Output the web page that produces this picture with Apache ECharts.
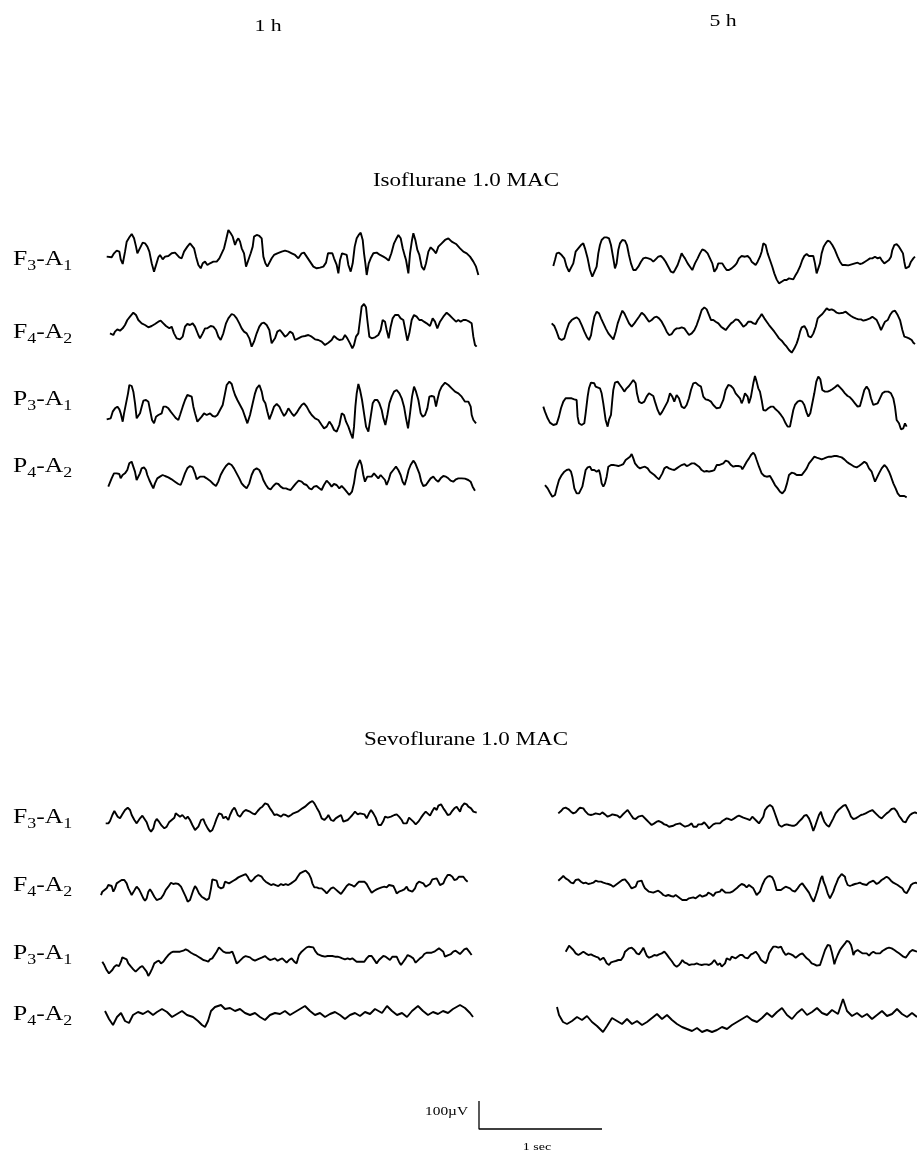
<!DOCTYPE html>
<html><head><meta charset="utf-8">
<script src="https://cdn.jsdelivr.net/npm/echarts@6/dist/echarts.min.js"></script>
<style>html,body{margin:0;padding:0;background:#fff}#c{width:917px;height:1153px}</style>
</head><body><div id="c"></div>
<script>
// Units: time unit = 1/369 s, amplitude unit = 100/84 µV (upward positive)
const timePoints = ['1 h', '5 h'];
const agents = ['Isoflurane 1.0 MAC', 'Sevoflurane 1.0 MAC'];
const channels = ['F3-A1', 'F4-A2', 'P3-A1', 'P4-A2'];
const scaleTime = 369;   // 1 sec
const scaleAmp = 84;     // 100 µV
const scaleLabels = ['100µV', '1 sec'];

const iso1h_F3A1 = [[0,-10],[15,-12],[22,0],[30,8],[38,5],[42,-18],[48,-32],[55,5],[60,35],[68,48],[75,58],[82,45],[88,20],[92,0],[98,-5],[102,20],[108,32],[115,30],[122,20],[128,5],[135,-30],[142,-55],[148,-50],[155,-12],[160,-5],[168,-18],[175,-10],[185,-8],[195,0],[205,2],[210,8],[218,-12],[225,-15],[232,5],[242,20],[250,30],[256,35],[262,15],[268,-10],[275,-35],[282,-45],[288,-30],[295,-25],[302,-35],[310,-30],[320,-25],[330,-25],[338,-15],[345,0],[352,15],[358,40],[365,70],[372,60],[378,50],[385,25],[390,38],[395,45],[400,35],[405,15],[412,0],[418,-40],[425,-20],[432,0],[438,20],[442,50],[450,55],[458,52],[465,45],[470,-10],[476,-30],[482,-40],[488,-35],[495,-15],[502,-5],[512,0],[525,5],[535,8],[545,5],[555,0],[565,-5],[575,-15],[585,0],[592,2],[600,-10],[610,-25],[620,-40],[630,-45],[640,-43],[650,-40],[658,-28],[664,0],[670,5],[677,0],[682,-15],[690,-35],[695,-60],[700,-20],[706,0],[712,2],[720,-5],[725,-35],[732,-55],[738,-30],[744,20],[750,45],[756,55],[762,62],[768,40],[772,0],[776,-30],[780,-65],[786,-30],[792,-15],[800,0],[810,2],[820,-5],[830,-10],[838,-15],[846,-22],[854,0],[862,30],[868,42],[875,55],[882,45],[888,15],[895,-10],[898,-20],[905,-60],[910,0],[916,40],[920,60],[926,40],[932,10],[938,-5],[945,-40],[952,-50],[958,-30],[965,5],[972,18],[980,10],[988,0],[995,20],[1005,30],[1015,40],[1025,45],[1035,35],[1048,28],[1060,15],[1070,5],[1080,0],[1090,-10],[1100,-25],[1108,-40],[1115,-65]];

const iso1h_F4A2 = [[0,-10],[5,-5],[10,-15],[15,-5],[22,2],[30,-2],[38,5],[45,15],[52,30],[60,40],[70,52],[78,45],[85,30],[95,20],[105,15],[115,8],[125,12],[135,18],[145,25],[152,28],[160,20],[168,12],[178,5],[185,10],[192,-10],[200,-25],[210,-28],[218,-20],[225,10],[232,18],[240,15],[248,20],[255,10],[260,12],[265,-15],[270,-25],[278,-10],[285,5],[292,5],[302,12],[310,10],[318,0],[325,-20],[332,-30],[340,-10],[348,20],[355,35],[365,48],[372,45],[380,35],[388,20],[395,5],[402,-5],[410,-10],[418,-25],[425,-50],[432,-35],[440,-10],[448,10],[455,20],[462,22],[470,15],[478,0],[485,-40],[490,-45],[495,-25],[502,-5],[510,0],[518,-10],[525,-20],[532,-15],[540,-5],[548,-10],[555,-30],[565,-25],[575,-20],[585,-18],[595,-15],[605,-20],[615,-28],[625,-30],[635,-35],[645,-45],[655,-38],[665,-30],[672,-18],[680,-25],[688,-30],[698,-28],[705,-15],[712,-25],[720,-40],[727,-55],[732,-45],[738,-20],[745,-10],[750,30],[755,70],[762,78],[768,68],[772,30],[778,-20],[785,-25],[795,-22],[805,-15],[812,0],[818,30],[825,25],[830,0],[836,-25],[842,10],[848,35],[855,45],[865,45],[872,35],[880,30],[886,0],[892,-32],[898,-10],[905,30],[912,45],[920,40],[928,30],[935,30],[942,25],[950,20],[960,12],[968,35],[975,25],[982,5],[990,25],[1000,40],[1010,52],[1018,45],[1028,35],[1038,25],[1045,30],[1052,25],[1060,30],[1068,30],[1078,25],[1085,20],[1090,-20],[1095,-45],[1100,-50]];

const iso1h_P3A1 = [[0,-28],[5,-32],[12,-25],[18,-5],[25,5],[32,10],[38,2],[42,-10],[48,-35],[52,-10],[58,20],[64,50],[68,75],[75,72],[80,55],[85,20],[90,-25],[95,-30],[100,-10],[105,10],[110,28],[118,30],[125,25],[130,0],[136,-30],[142,-40],[148,-20],[155,-15],[160,-20],[165,-10],[170,10],[178,10],[185,5],[192,-5],[200,-15],[208,-25],[215,-30],[220,-15],[228,10],[235,30],[242,45],[248,50],[255,40],[260,10],[265,-10],[272,-35],[278,-35],[285,-20],[292,-10],[300,-15],[310,-10],[318,-18],[325,-20],[332,-15],[340,0],[348,15],[355,50],[360,75],[368,85],[375,78],[380,60],[385,45],[392,30],[400,15],[408,0],[415,-20],[422,-40],[430,-15],[438,20],[445,50],[450,65],[458,75],[465,55],[470,30],[476,20],[482,-5],[488,-28],[495,-10],[502,10],[510,18],[518,10],[525,-5],[532,-18],[538,-10],[545,5],[550,10],[555,-10],[562,-18],[570,-8],[578,5],[585,15],[592,20],[600,10],[608,-5],[615,-15],[625,-25],[635,-30],[645,-45],[652,-55],[660,-50],[668,-35],[675,-45],[682,-60],[690,-65],[698,-45],[705,-10],[712,-15],[718,-35],[725,-50],[732,-70],[738,-85],[742,-50],[746,10],[750,50],[755,78],[760,60],[766,30],[772,-10],[778,-50],[785,-65],[792,-20],[798,20],[804,30],[812,30],[818,20],[825,0],[830,-25],[836,-45],[842,-15],[848,20],[855,40],[862,55],[870,60],[878,50],[885,35],[892,10],[898,-25],[904,-55],[910,-10],[916,40],[922,70],[928,55],[935,30],[942,-10],[948,-20],[955,-15],[962,5],[968,40],[975,42],[982,40],[988,10],[992,30],[998,55],[1005,70],[1015,82],[1025,75],[1035,65],[1045,55],[1055,50],[1065,40],[1075,25],[1085,25],[1092,10],[1095,-15],[1100,-30],[1108,-40]];

const iso1h_P4A2 = [[0,-20],[5,-15],[10,5],[17,20],[25,20],[33,18],[37,5],[43,15],[50,20],[57,30],[63,50],[70,55],[75,50],[80,25],[85,0],[91,-5],[95,20],[100,35],[107,38],[113,30],[117,15],[123,0],[130,-15],[135,-25],[140,-10],[147,5],[155,10],[163,15],[170,12],[180,8],[190,2],[200,-5],[210,-12],[217,-15],[223,0],[230,20],[237,35],[245,42],[253,38],[260,20],[265,2],[270,-2],[275,10],[280,15],[287,10],[295,5],[305,-2],[315,-12],[323,-18],[330,-5],[337,15],[345,30],[353,42],[361,50],[370,45],[377,35],[385,20],[393,5],[400,-10],[407,-18],[415,-25],[423,-10],[430,15],[437,30],[445,35],[453,30],[460,15],[465,0],[473,-15],[480,-25],[487,-28],[495,-18],[503,-10],[510,-12],[517,-20],[525,-25],[533,-25],[540,-28],[547,-30],[555,-20],[563,-10],[571,-2],[580,-5],[587,-12],[595,-15],[603,-25],[610,-28],[617,-20],[625,-18],[633,-25],[640,-30],[647,-15],[655,-2],[663,-10],[670,-20],[677,-12],[685,-15],[693,-25],[700,-18],[707,-25],[715,-35],[723,-45],[727,-50],[731,-35],[737,-10],[743,30],[750,50],[755,60],[760,45],[765,15],[770,-5],[777,10],[783,15],[790,10],[797,20],[803,15],[810,5],[817,15],[823,20],[830,0],[835,-15],[841,0],[847,20],[855,30],[863,40],[870,30],[877,15],[883,-5],[889,-15],[895,5],[901,30],[907,45],[915,58],[921,50],[927,35],[933,20],[939,-5],[945,-18],[953,-15],[960,-5],[967,5],[975,10],[983,0],[990,-5],[997,5],[1005,12],[1013,10],[1020,5],[1027,-2],[1035,-5],[1043,2],[1050,5],[1060,5],[1070,4],[1080,0],[1087,-5],[1093,-20],[1100,-32]];

const iso5h_F3A1 = [[0,-28],[5,-10],[10,10],[17,12],[25,5],[33,-5],[40,-30],[47,-45],[53,-50],[60,-20],[67,15],[75,25],[83,35],[90,40],[95,25],[103,-5],[110,-40],[117,-60],[123,-62],[130,-30],[135,10],[140,35],[145,50],[153,58],[160,58],[167,55],[173,35],[180,-5],[185,-35],[190,-20],[195,20],[200,40],[207,50],[215,48],[221,35],[227,5],[233,-20],[240,-40],[247,-40],[255,-30],[263,-15],[270,-5],[277,-3],[285,-5],[293,-8],[300,-15],[307,-8],[315,0],[323,2],[330,-5],[337,-15],[345,-30],[353,-45],[360,-48],[365,-40],[373,-25],[380,-5],[385,10],[390,2],[395,-5],[403,-20],[410,-30],[417,-40],[425,-20],[433,-5],[440,10],[447,22],[455,18],[463,10],[470,-5],[477,-20],[483,-45],[490,-35],[495,-20],[500,-18],[507,-20],[513,-30],[520,-40],[527,-40],[535,-35],[543,-28],[550,-20],[557,-5],[565,2],[575,0],[583,2],[590,-5],[595,-15],[600,-20],[607,-25],[613,-15],[620,0],[625,15],[630,40],[637,35],[643,10],[650,-10],[657,-30],[663,-50],[670,-68],[677,-80],[685,-75],[693,-70],[700,-70],[707,-65],[713,-60],[720,-68],[727,-55],[733,-45],[740,-30],[747,-10],[753,2],[760,8],[767,2],[773,0],[780,2],[785,-20],[790,-50],[795,-55],[800,-20],[805,10],[811,30],[817,40],[823,48],[830,45],[837,35],[845,20],[853,0],[860,-15],[867,-25],[875,-25],[885,-26],[895,-23],[905,-20],[913,-18],[920,-22],[927,-20],[935,-15],[943,-10],[950,-5],[957,-5],[965,0],[973,-5],[980,-2],[985,-10],[993,-20],[1000,-15],[1007,-10],[1013,0],[1017,20],[1023,35],[1030,38],[1037,30],[1043,20],[1049,10],[1053,-15],[1057,-35],[1063,-40],[1067,-30],[1073,-15],[1080,-5],[1085,0]];

const iso5h_F4A2 = [[0,10],[8,2],[15,-15],[22,-35],[30,-40],[38,-35],[45,-10],[52,10],[60,20],[68,25],[75,28],[82,22],[90,5],[98,-15],[105,-30],[112,-40],[118,-25],[122,0],[128,30],[135,45],[142,40],[148,25],[155,10],[162,-5],[170,-20],[178,-30],[185,-38],[192,-15],[198,10],[205,30],[212,48],[218,40],[225,25],[232,10],[240,0],[248,10],[255,20],[262,30],[270,42],[278,35],[285,25],[292,15],[300,20],[308,28],[315,30],[322,25],[330,15],[338,0],[345,-15],[352,-25],[360,-22],[368,-10],[375,-5],[382,-5],[390,-2],[398,-5],[405,-15],[412,-25],[420,-20],[428,-10],[435,5],[442,25],[450,50],[458,58],[465,52],[472,35],[478,20],[485,20],[492,15],[500,10],[508,0],[515,-5],[522,-10],[530,0],[538,10],[545,15],[552,22],[560,20],[568,10],[575,0],[582,5],[590,15],[598,15],[605,10],[612,8],[618,20],[625,30],[630,38],[638,25],[645,15],[652,5],[660,-5],[668,-15],[675,-25],[682,-35],[690,-42],[698,-52],[705,-60],[712,-70],[720,-78],[728,-65],[735,-50],[740,-35],[745,-15],[750,-2],[758,2],[765,-10],[770,-28],[778,-32],[785,-20],[792,0],[798,25],[805,32],[812,38],[818,35],[825,55],[832,50],[840,52],[848,48],[855,42],[862,40],[868,38],[875,42],[882,45],[890,38],[898,32],[905,28],[912,25],[920,22],[928,22],[935,18],[942,20],[948,18],[955,25],[962,30],[968,35],[975,20],[982,5],[988,-10],[995,5],[1000,15],[1008,20],[1015,35],[1022,45],[1030,48],[1038,35],[1045,20],[1052,-10],[1058,-30],[1065,-32],[1072,-35],[1080,-40],[1085,-48],[1090,-52]];

const iso5h_P3A1 = [[0,-10],[5,-25],[13,-45],[20,-58],[30,-65],[40,-62],[47,-40],[53,-15],[60,5],[67,15],[75,15],[85,15],[93,12],[100,10],[103,-40],[107,-60],[115,-65],[123,-60],[127,-30],[133,20],[137,45],[143,62],[147,65],[153,60],[157,50],[163,52],[170,45],[175,30],[180,0],[187,-50],[193,-70],[197,-50],[203,-35],[207,10],[210,40],[215,62],[223,65],[230,55],[237,45],[243,35],[250,45],[257,52],[263,60],[270,70],[277,60],[281,30],[287,5],[295,0],[303,5],[310,20],[317,30],[323,32],[330,22],[335,5],[343,-20],[350,-35],[357,-25],[365,-10],[373,5],[380,30],[387,20],[393,5],[400,25],[407,15],[415,-10],[423,-15],[430,-5],[437,15],[443,40],[450,60],[457,62],[465,55],[473,50],[480,20],[487,12],[495,10],[503,5],[510,-5],[520,-15],[530,-13],[540,10],[547,40],[555,55],[563,52],[570,45],[577,30],[583,35],[590,15],[595,0],[600,12],[605,30],[613,20],[617,0],[623,20],[630,60],[635,82],[640,65],[645,45],[650,35],[655,10],[660,-20],[667,-22],[675,-15],[683,-10],[690,-10],[697,-18],[705,-25],[713,-35],[720,-45],[727,-60],[733,-70],[740,-70],[745,-45],[750,-20],[755,-5],[763,5],[770,8],[777,5],[783,-5],[790,-28],[795,-40],[801,-30],[807,0],[813,30],[819,65],[825,80],[831,72],[837,40],[845,35],[853,35],[860,38],[867,42],[875,48],[883,55],[890,48],[897,40],[905,30],[913,22],[920,18],[927,10],[935,0],[943,-10],[950,-8],[955,10],[963,40],[970,50],[977,40],[983,15],[990,-5],[995,-10],[1003,0],[1010,15],[1017,30],[1025,35],[1035,35],[1043,30],[1050,15],[1055,-10],[1060,-50],[1067,-60],[1073,-78],[1080,-75],[1085,-60],[1090,-70]];

const iso5h_P4A2 = [[0,-25],[8,-35],[15,-48],[22,-60],[30,-55],[35,-35],[42,-10],[50,5],[58,15],[65,20],[72,22],[78,15],[82,0],[88,-35],[95,-50],[102,-50],[108,-45],[112,-30],[118,0],[122,20],[128,28],[135,30],[140,20],[148,20],[155,15],[162,20],[166,5],[170,-20],[175,-30],[180,-20],[185,0],[190,30],[198,35],[205,35],[212,34],[220,32],[228,35],[235,38],[242,50],[248,55],[255,60],[260,68],[265,55],[270,40],[278,30],[285,25],[292,28],[300,30],[308,25],[315,15],[320,10],[328,5],[335,-2],[342,-8],[348,-5],[352,10],[358,25],[365,30],[372,25],[380,22],[388,20],[395,25],[402,30],[410,35],[418,38],[425,32],[432,35],[440,40],[448,40],[455,35],[462,30],[470,20],[478,15],[485,17],[492,15],[500,17],[508,20],[515,35],[522,35],[528,30],[535,40],[542,48],[550,45],[558,35],[565,30],[572,32],[580,32],[588,30],[592,22],[598,32],[605,45],[612,55],[618,65],[625,72],[630,65],[635,50],[642,30],[650,10],[658,2],[665,0],[675,2],[682,-10],[690,-25],[698,-35],[705,-45],[712,-50],[720,-40],[726,-20],[732,5],[740,12],[748,10],[755,5],[762,5],[770,5],[778,15],[785,25],[792,40],[800,50],[808,60],[815,57],[822,55],[830,52],[838,55],[845,58],[852,60],[860,60],[868,62],[875,62],[882,60],[890,58],[898,52],[905,45],[912,40],[920,35],[928,30],[935,28],[942,32],[950,38],[958,45],[965,40],[972,25],[980,15],[985,0],[990,-15],[995,-10],[1002,10],[1010,25],[1018,35],[1025,28],[1032,15],[1038,0],[1045,-20],[1052,-35],[1058,-50],[1065,-58],[1070,-55],[1078,-58],[1085,-62]];

const sevo1h_F3A1 = [[0,-25],[8,-25],[13,-18],[20,0],[26,12],[30,10],[36,-5],[43,-10],[50,2],[58,15],[66,22],[73,15],[78,0],[86,-15],[93,-25],[98,-20],[103,-10],[110,-2],[116,-5],[123,-22],[130,-42],[136,-50],[143,-40],[148,-20],[153,-12],[160,-20],[168,-32],[176,-40],[183,-35],[190,-22],[198,-15],[206,-8],[210,5],[216,0],[223,-5],[230,0],[236,-5],[240,-12],[246,-5],[253,-15],[260,-30],[268,-45],[273,-48],[278,-35],[286,-15],[293,-12],[298,-25],[306,-40],[313,-50],[320,-45],[326,-30],[333,-10],[340,5],[348,2],[353,-10],[360,-5],[368,-15],[373,0],[380,15],[386,22],[390,15],[396,0],[403,-5],[408,0],[413,10],[420,15],[426,20],[433,10],[440,5],[448,2],[456,12],[463,20],[470,25],[478,35],[486,32],[493,20],[500,10],[506,0],[513,2],[518,5],[526,-5],[533,2],[540,0],[548,-5],[556,0],[563,5],[568,0],[576,10],[583,15],[590,20],[598,25],[606,32],[613,38],[620,42],[626,35],[633,22],[640,10],[648,-10],[656,-15],[663,-8],[668,0],[676,-15],[683,-18],[690,-10],[698,-5],[706,0],[713,-20],[718,-25],[726,-15],[733,-8],[740,0],[748,10],[756,2],[763,5],[768,10],[776,2],[783,-10],[790,5],[796,15],[803,5],[810,-8],[818,-30],[826,-30],[833,-18],[838,-5],[846,-8],[856,-5],[866,0],[873,2],[880,-5],[888,-15],[893,-25],[898,-20],[903,-25],[910,-8],[916,-10],[923,-20],[930,-28],[938,-20],[946,-8],[953,2],[960,10],[966,5],[973,-2],[980,12],[986,22],[993,15],[998,28],[1006,32],[1013,20],[1020,10],[1026,0],[1033,2],[1038,10],[1046,20],[1053,25],[1058,20],[1063,10],[1068,25],[1076,35],[1083,32],[1088,25],[1096,20],[1103,10],[1113,7]];

const sevo1h_F4A2 = [[0,-25],[4,-15],[10,-20],[17,-5],[22,5],[27,10],[32,2],[37,-15],[42,-5],[47,10],[54,15],[62,20],[70,20],[77,10],[82,-5],[87,-15],[92,-25],[97,-20],[102,-8],[107,0],[114,-8],[120,-20],[127,-35],[132,-42],[137,-35],[142,-15],[147,-8],[152,-15],[160,-30],[167,-40],[172,-40],[180,-35],[187,-25],[194,-10],[202,0],[210,12],[217,8],[224,10],[232,8],[240,0],[247,-15],[254,-30],[260,-45],[267,-40],[272,-25],[277,-10],[282,2],[287,-5],[294,-20],[302,-30],[310,-35],[317,-40],[324,-35],[330,-5],[334,22],[340,25],[347,18],[352,0],[360,-5],[367,-2],[372,15],[377,20],[384,10],[390,12],[397,18],[404,22],[412,28],[420,32],[427,35],[434,38],[440,30],[444,22],[450,15],[457,22],[464,30],[472,35],[477,38],[482,30],[487,22],[494,15],[502,10],[510,5],[517,8],[524,5],[532,2],[540,8],[547,5],[554,8],[562,5],[570,10],[577,15],[584,20],[590,30],[597,40],[607,45],[614,48],[620,45],[624,38],[630,25],[634,10],[640,-2],[647,-2],[654,-5],[662,-5],[670,-12],[677,-20],[682,-15],[690,-5],[697,-2],[704,-8],[712,-15],[720,-22],[724,-25],[730,-8],[737,2],[744,8],[752,5],[760,0],[767,8],[774,15],[782,15],[790,15],[797,8],[804,-5],[812,-18],[820,-12],[827,-8],[834,-5],[842,-2],[850,0],[857,-2],[864,5],[870,8],[877,2],[882,-8],[887,-20],[894,-15],[902,-12],[910,-8],[917,0],[922,-10],[927,-15],[934,-15],[942,-5],[947,8],[954,15],[960,15],[967,10],[974,0],[980,-5],[987,8],[994,22],[1000,28],[1007,25],[1012,15],[1017,5],[1022,0],[1027,10],[1032,22],[1040,35],[1047,35],[1054,30],[1060,20],[1067,22],[1074,30],[1080,35],[1087,30],[1094,20],[1100,15]];

const sevo1h_P3A1 = [[0,-15],[6,-25],[13,-40],[20,-50],[26,-52],[30,-40],[36,-30],[43,-25],[50,-28],[56,-15],[60,-2],[66,0],[73,-8],[78,-20],[86,-30],[93,-38],[100,-45],[106,-42],[113,-32],[120,-28],[126,-32],[133,-45],[138,-58],[143,-50],[150,-35],[156,-20],[163,-15],[170,-12],[176,-20],[183,-15],[190,-5],[198,5],[206,12],[213,15],[223,15],[233,15],[243,18],[250,22],[258,18],[266,12],[273,8],[280,5],[288,0],[296,-5],[303,-10],[310,-12],[318,-15],[323,-8],[330,-5],[336,0],[343,15],[350,28],[356,22],[363,15],[370,12],[376,10],[383,12],[390,15],[396,0],[403,-20],[410,-15],[416,-10],[423,-2],[430,2],[436,5],[443,-2],[450,-8],[458,-12],[466,-8],[473,-5],[480,-2],[488,2],[496,-5],[503,-10],[510,-8],[518,-5],[526,-12],[533,-8],[540,-5],[546,-10],[553,-18],[560,-10],[568,-5],[576,-15],[583,-20],[590,5],[598,15],[606,22],[613,28],[620,30],[626,32],[633,28],[640,15],[646,8],[653,5],[660,2],[668,0],[676,2],[683,2],[690,2],[698,0],[706,0],[713,-2],[720,-5],[728,-8],[736,-5],[743,-8],[750,-5],[756,0],[763,-15],[770,-15],[778,-15],[786,-15],[793,-5],[800,2],[808,2],[813,-5],[818,-10],[823,-20],[830,-10],[836,-5],[843,2],[850,0],[856,-5],[863,-10],[870,0],[876,5],[883,0],[890,-15],[896,-25],[903,-15],[910,-5],[916,5],[920,8],[926,0],[933,-5],[940,-18],[946,-12],[953,-5],[960,0],[966,8],[973,12],[980,12],[988,12],[996,15],[1003,20],[1010,25],[1016,22],[1023,15],[1028,0],[1033,-5],[1038,5],[1046,8],[1053,15],[1060,18],[1066,12],[1073,8],[1078,12],[1086,22],[1093,25],[1098,20],[1103,12],[1108,5]];

const sevo1h_P4A2 = [[0,18],[12,-6],[24,-24],[36,0],[48,12],[60,-12],[72,-18],[84,6],[99,15],[114,9],[129,18],[144,6],[156,15],[171,24],[186,15],[201,0],[216,9],[231,18],[246,6],[264,0],[279,-12],[291,-24],[300,-30],[309,-12],[318,18],[330,30],[348,36],[360,24],[375,27],[390,18],[405,24],[420,12],[435,6],[450,12],[465,0],[480,-9],[495,6],[510,12],[525,9],[540,18],[555,6],[570,15],[585,24],[600,33],[615,18],[630,6],[645,12],[660,0],[675,9],[690,15],[705,6],[720,-6],[735,6],[750,12],[765,3],[780,15],[795,9],[810,24],[831,12],[846,33],[861,18],[876,6],[891,12],[906,0],[921,18],[939,33],[954,18],[969,6],[984,15],[999,9],[1014,18],[1029,12],[1044,24],[1065,36],[1080,27],[1095,12],[1104,0]];

const sevo5h_F3A1 = [[0,10],[8,17],[15,25],[22,27],[30,23],[38,15],[45,10],[52,13],[58,20],[65,27],[70,30],[75,25],[82,15],[90,7],[98,5],[105,7],[112,10],[118,5],[125,7],[132,13],[140,7],[148,0],[155,3],[162,7],[170,5],[178,3],[185,-3],[192,5],[200,13],[208,20],[212,15],[218,5],[225,-5],[232,-7],[240,0],[245,5],[252,3],[258,-3],[265,-10],[272,-17],[280,-25],[288,-20],[295,-15],[302,-13],[310,-17],[318,-23],[325,-25],[332,-30],[338,-25],[345,-27],[352,-23],[358,-25],[365,-20],[372,-25],[380,-30],[385,-35],[390,-27],[395,-33],[400,-20],[405,-30],[410,-35],[415,-30],[420,-23],[425,-27],[430,-23],[438,-17],[445,-25],[452,-35],[458,-30],[465,-23],[472,-20],[478,-25],[485,-20],[492,-13],[498,-7],[505,-5],[512,-7],[520,-10],[528,-5],[535,0],[542,3],[548,5],[555,-3],[560,0],[568,-7],[575,-10],[582,0],[588,-3],[595,-13],[602,-20],[608,-20],[615,0],[620,20],[628,30],[635,35],[642,30],[648,15],[655,-5],[662,-25],[670,-30],[678,-25],[685,-23],[692,-25],[700,-27],[708,-27],[715,-23],[722,-15],[730,-7],[738,3],[745,5],[752,-5],[758,-20],[765,-43],[770,-30],[775,-15],[782,5],[788,15],[792,0],[798,-15],[805,-25],[812,-30],[818,-25],[825,-5],[832,10],[840,20],[848,27],[855,33],[862,35],[868,30],[872,15],[878,0],[885,-7],[892,-5],[900,0],[908,5],[915,7],[922,10],[928,15],[935,17],[942,20],[948,15],[955,7],[962,0],[970,-5],[978,3],[985,10],[992,15],[1000,23],[1008,25],[1015,17],[1022,3],[1028,-5],[1035,-15],[1042,-17],[1048,-5],[1055,5],[1062,10],[1070,13],[1076,10]];

const sevo5h_F4A2 = [[0,13],[8,20],[15,27],[22,20],[30,15],[38,7],[45,5],[52,15],[60,17],[68,10],[75,5],[82,7],[90,3],[98,5],[105,7],[112,13],[120,10],[128,10],[135,7],[142,5],[150,3],[158,0],[165,-5],[172,0],[178,5],[185,10],[192,15],[200,17],[205,13],[210,5],[215,-3],[220,-10],[225,-13],[232,-5],[238,10],[242,15],[250,13],[255,0],[260,-10],[265,-15],[272,-20],[278,-17],[285,-23],[292,-20],[300,-17],[308,-23],[315,-30],[322,-33],[330,-30],[338,-33],[345,-35],[352,-30],[358,-35],[365,-40],[372,-45],[378,-47],[385,-45],[392,-40],[398,-43],[405,-37],[412,-40],[418,-35],[425,-30],[432,-35],[438,-40],[445,-30],[450,-23],[458,-27],[465,-33],[472,-23],[478,-25],[485,-20],[490,-13],[495,-17],[502,-23],[508,-20],[515,-23],[522,-20],[528,-17],[535,-10],[542,-3],[550,3],[558,0],[565,-7],[572,0],[578,-5],[585,-10],[590,-15],[595,-30],[600,-35],[605,-20],[612,0],[620,17],[628,25],[635,27],[642,23],[648,10],[655,-15],[660,-20],[668,-15],[675,-10],[682,-5],[688,-3],[695,-10],[702,-17],[710,-20],[718,-10],[725,0],[732,5],[738,0],[745,-13],[752,-23],[760,-40],[766,-50],[772,-33],[778,-15],[782,0],[788,20],[792,27],[796,10],[802,-5],[808,-25],[815,-40],[820,-35],[825,-20],[830,-5],[835,7],[840,20],[845,25],[850,33],[855,35],[860,25],[862,15],[868,0],[875,-3],[882,0],[890,3],[898,5],[905,7],[912,3],[918,5],[925,0],[932,7],[938,10],[945,13],[950,7],[955,3],[962,7],[970,15],[978,20],[985,25],[992,20],[998,13],[1005,7],[1010,5],[1018,0],[1025,-5],[1032,-10],[1038,-20],[1045,-25],[1052,-13],[1058,0],[1065,5],[1072,7],[1076,5]];

const sevo5h_P3A1 = [[0,10],[6,20],[10,28],[16,25],[23,15],[30,5],[38,0],[46,5],[53,10],[60,5],[68,0],[76,2],[83,-2],[90,-5],[98,-8],[103,-15],[108,-20],[113,-8],[118,-15],[123,-25],[130,-30],[136,-22],[143,-20],[150,-18],[158,-15],[166,-15],[173,-5],[178,10],[183,15],[190,20],[198,22],[206,15],[213,5],[220,2],[226,10],[233,22],[238,10],[243,-2],[250,-8],[258,-5],[266,0],[273,-2],[280,2],[288,5],[296,10],[303,2],[310,-8],[318,-18],[326,-30],[333,-35],[340,-30],[346,-22],[350,-15],[356,-22],[363,-25],[370,-30],[378,-28],[386,-28],[393,-25],[400,-28],[408,-30],[416,-28],[423,-28],[430,-30],[438,-25],[446,-15],[450,-18],[456,-30],[463,-25],[468,-35],[473,-40],[478,-25],[483,-10],[488,-12],[493,-15],[498,-5],[503,-2],[510,-10],[516,-5],[523,0],[530,0],[538,-8],[546,-10],[550,-5],[556,2],[563,5],[570,10],[578,0],[586,-15],[593,-20],[600,-25],[606,-12],[610,5],[616,15],[623,25],[630,25],[638,22],[646,25],[653,10],[660,0],[668,5],[676,2],[683,-2],[690,-8],[696,-5],[703,2],[710,5],[716,-2],[723,-10],[730,-15],[738,-25],[746,-28],[753,-32],[758,-38],[763,-30],[768,-15],[773,0],[778,15],[786,30],[793,28],[798,10],[803,-12],[806,-28],[810,-15],[816,0],[823,15],[828,22],[833,28],[838,35],[843,42],[848,48],[850,40],[856,30],[860,15],[863,0],[868,10],[876,15],[883,10],[890,5],[896,2],[903,5],[910,-2],[916,5],[923,10],[930,5],[936,0],[943,5],[950,12],[956,15],[963,20],[970,22],[978,20],[986,15],[993,10],[1000,5],[1006,2],[1013,-5],[1020,-8],[1026,0],[1033,10],[1040,15],[1046,12],[1054,10]];

const sevo5h_P4A2 = [[0,33],[6,9],[18,-12],[30,-18],[45,-9],[60,3],[75,-6],[90,6],[105,-12],[120,-24],[138,-42],[150,-24],[165,0],[180,-9],[195,-18],[210,-3],[225,-18],[240,-9],[255,-21],[270,-12],[285,0],[300,12],[315,-3],[330,9],[345,-6],[360,-18],[375,-27],[390,-33],[405,-39],[420,-30],[435,-42],[450,-36],[465,-42],[480,-36],[495,-27],[510,-33],[525,-21],[540,-12],[555,-3],[570,6],[585,-6],[600,-12],[615,0],[630,15],[645,3],[660,18],[675,30],[690,9],[705,-3],[720,15],[735,27],[750,9],[765,18],[780,30],[795,15],[810,9],[825,24],[843,12],[858,57],[870,21],[885,6],[900,15],[915,3],[930,12],[945,-3],[960,9],[975,21],[990,6],[1005,12],[1020,27],[1035,12],[1050,3],[1065,15],[1080,3]];

// trace order: [agent][time][channel]
const traces = [
  [[iso1h_F3A1, iso1h_F4A2, iso1h_P3A1, iso1h_P4A2], [iso5h_F3A1, iso5h_F4A2, iso5h_P3A1, iso5h_P4A2]],
  [[sevo1h_F3A1, sevo1h_F4A2, sevo1h_P3A1, sevo1h_P4A2], [sevo5h_F3A1, sevo5h_F4A2, sevo5h_P3A1, sevo5h_P4A2]]
];

// ---- layout (positions only) ----
const traceLeft = [
  [[106.7, 110, 106.7, 108.3], [553.3, 551.7, 543.3, 545]],
  [[105.7, 101, 102.3, 105], [558.3, 558.3, 565.7, 557]]
];
const traceBase = [
  [[253.3, 330, 410, 480], [256.7, 326.7, 403.3, 476.7]],
  [[815, 886.7, 956.7, 1017], [816.7, 885, 955, 1018]]
];
const labelY = [[260, 333, 400, 467], [818, 886, 954, 1015]];
const titleY = [181, 740];
const timeX = [268, 723], timeY = [27, 22];
const FONT = "'Liberation Serif','Times New Roman',serif";
const SX = 1.28;
const PX = 3; // axis units per pixel (both axes)

const grids = [], xAxes = [], yAxes = [], series = [], graphics = [];
function addGrid(left, zeroY, hUp, hDown) {
  const i = grids.length;
  const w = Math.min(400, 916 - left);
  grids.push({left: left, top: zeroY - hUp, width: w, height: hUp + hDown, outerBoundsMode: 'none', containLabel: false});
  xAxes.push({type: 'value', gridIndex: i, min: 0, max: w * PX, show: false});
  yAxes.push({type: 'value', gridIndex: i, min: -hDown * PX, max: hUp * PX, show: false});
  return i;
}
for (let a = 0; a < 2; a++) for (let t = 0; t < 2; t++) for (let c = 0; c < 4; c++) {
  const i = addGrid(traceLeft[a][t][c], traceBase[a][t][c], 60, 60);
  series.push({type: 'line', xAxisIndex: i, yAxisIndex: i, data: traces[a][t][c],
    showSymbol: false, symbol: 'none', silent: true, clip: false,
    lineStyle: {color: '#000', width: 1.9}});
}
// scale bar
const sb = addGrid(479, 1129, 40, 20);
series.push({type: 'line', xAxisIndex: sb, yAxisIndex: sb, data: [[0, scaleAmp], [0, 0], [scaleTime, 0]],
  showSymbol: false, symbol: 'none', silent: true, clip: false, lineStyle: {color: '#000', width: 1.3}});

function txt(text, x, y, size, align) {
  graphics.push({type: 'text', x: x, y: y, scaleX: SX, silent: true,
    style: {text: text, fontFamily: FONT, fontSize: size, fill: '#000',
      align: align, textAlign: align, verticalAlign: 'middle', textVerticalAlign: 'middle'}});
}
for (let t = 0; t < 2; t++) txt(timePoints[t], timeX[t], timeY[t], 17, 'center');
for (let a = 0; a < 2; a++) {
  txt(agents[a], 466, titleY[a], 18, 'center');
  for (let c = 0; c < 4; c++) {
    const rt = channels[c].replace(/([A-Z-]+)/g, '{n|$1}').replace(/(\d)/g, '{s|$1}');
    graphics.push({type: 'text', x: 13, y: labelY[a][c], scaleX: SX, silent: true,
      style: {text: rt, fill: '#000', align: 'left', textAlign: 'left',
        verticalAlign: 'middle', textVerticalAlign: 'middle',
        rich: {
          n: {fontFamily: FONT, fontSize: 20, lineHeight: 20, verticalAlign: 'top', fill: '#000'},
          s: {fontFamily: FONT, fontSize: 14, lineHeight: 14, verticalAlign: 'top', padding: [9, 0, 0, 0], fill: '#000'}
        }}});
  }
}
txt(scaleLabels[0], 468, 1112, 12, 'right');
txt(scaleLabels[1], 537, 1147, 11, 'center');

const chart = echarts.init(document.getElementById('c'), null, {renderer: 'canvas'});
chart.setOption({animation: false, backgroundColor: '#fff', grid: grids, xAxis: xAxes, yAxis: yAxes, series: series, graphic: graphics});
</script></body></html>
